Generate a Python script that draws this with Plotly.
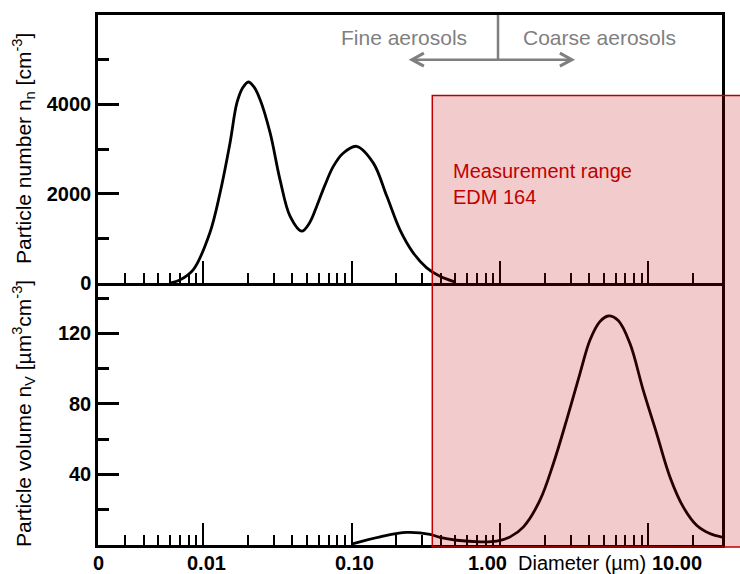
import math
import plotly.graph_objects as go

# ---- data -------------------------------------------------------------
# Particle number size distribution n_n (cm^-3) versus diameter (um)
number_diam_um = [0.006, 0.007, 0.0086, 0.0111, 0.013, 0.0152, 0.0169, 0.0185,
                  0.0202, 0.0219, 0.0242, 0.0283, 0.033, 0.0386, 0.0462, 0.0522,
                  0.0583, 0.066, 0.0754, 0.0874, 0.108, 0.14, 0.173, 0.212,
                  0.261, 0.321, 0.394, 0.5]
number_conc = [0, 70, 300, 1120, 2010, 3140, 4030, 4370,
               4500, 4400, 4110, 3360, 2310, 1490, 1160, 1350,
               1720, 2180, 2610, 2900, 3060, 2690, 1940, 1190,
               670, 340, 150, 20]

# Particle volume size distribution n_V (um^3 cm^-3) versus diameter (um)
volume_diam_um = [0.1, 0.156, 0.235, 0.338, 0.394, 0.511, 0.733, 0.95,
                  1.17, 1.44, 1.86, 2.29, 2.81, 3.46, 4.04, 4.71,
                  5.36, 6.26, 7.5, 9.22, 11.35, 13.96, 17.15, 21.1,
                  25.9, 31.9]
volume_conc = [0.5, 4.6, 7.1, 6.0, 4.3, 2.7, 1.8, 2.2,
               4.6, 10.3, 25.4, 46.2, 70.8, 97.3, 116.2, 126.6,
               129.8, 127.2, 114.3, 87.8, 63.3, 38.6, 21.6, 11.2,
               6.5, 4.3]

# axis extents
x_min_um, x_max_um = 0.00196, 31.3
number_range = [0, 6000]
volume_range = [0, 148.5]

# tick values / labels
x_major_vals = [0.01, 0.1, 1, 10]
x_minor_vals = [m * 10 ** e for e in range(-3, 2) for m in range(2, 10)
                if 0.003 <= m * 10 ** e <= 20]
# diameter axis captions: (text, position in um, bold)
x_captions = [("0", x_min_um, True), ("0.01", 0.0106, True), ("0.10", 0.1055, True),
              ("1.00", 0.818, True), ("Diameter (µm)", 3.57, False), ("10.00", 15.5, True)]
number_ticks = [0, 2000, 4000]
number_minor = [1000, 3000, 5000]
volume_ticks = [40, 80, 120]
volume_minor = [20, 60, 100, 140]

# annotation anchors
fine_coarse_split_um = 0.97
arrow_level = 5000
fine_arrow_tip_um, coarse_arrow_tip_um = 0.255, 3.05
measurement_low_um = 0.35          # lower limit of the EDM 164 range
measurement_top_number = 4200      # top edge of the highlight (top panel units)
measurement_bottom_volume = -1.1   # bottom edge of the highlight (bottom panel units)

# ---- layout geometry ---------------------------------------------------
W, H = 740, 574
M = dict(l=98, r=18, t=15, b=29)
split = 262 / (H - M["t"] - M["b"])   # bottom panel share of the plot height
xr = [math.log10(x_min_um), math.log10(x_max_um)]

FONT = "Arial, Liberation Sans, sans-serif"
GREY = "#7f7f7f"
RED = "#c00000"


def x_to_paper(d):
    return (math.log10(d) - xr[0]) / (xr[1] - xr[0])


def top_to_paper(v):
    return split + (v - number_range[0]) / (number_range[1] - number_range[0]) * (1 - split)


def bottom_to_paper(v):
    return (v - volume_range[0]) / (volume_range[1] - volume_range[0]) * split


fig = go.Figure()
fig.add_trace(go.Scatter(x=number_diam_um, y=number_conc, mode="lines",
                         line=dict(color="black", width=2.8, shape="spline", smoothing=1),
                         xaxis="x", yaxis="y", showlegend=False, hoverinfo="skip"))
fig.add_trace(go.Scatter(x=volume_diam_um, y=volume_conc, mode="lines",
                         line=dict(color="black", width=2.8, shape="spline", smoothing=1),
                         xaxis="x2", yaxis="y2", showlegend=False, hoverinfo="skip"))

xcommon = dict(type="log", range=xr, showgrid=False, zeroline=False, automargin=False,
               showline=True, linecolor="black", linewidth=2.5, showticklabels=False,
               tickmode="array", tickvals=x_major_vals, ticks="inside",
               ticklen=22, tickwidth=2, tickcolor="black",
               minor=dict(tickmode="array", tickvals=x_minor_vals, ticks="inside",
                          ticklen=10, tickwidth=2, tickcolor="black"))
ycommon = dict(showgrid=False, zeroline=False, automargin=False,
               showline=True, linecolor="black", linewidth=2.5, mirror=True,
               tickmode="array", ticks="inside", ticklen=21, tickwidth=2.5,
               tickcolor="black", tickfont=dict(size=20, weight="bold", family=FONT))

fig.update_layout(
    width=W, height=H, margin=M,
    paper_bgcolor="white", plot_bgcolor="white",
    font=dict(family=FONT, color="black"),
    xaxis=dict(**xcommon, anchor="y", mirror=True),
    xaxis2=dict(**xcommon, anchor="y2", matches="x"),
    yaxis=dict(**ycommon, domain=[split, 1], range=number_range, tickvals=number_ticks,
               minor=dict(tickmode="array", tickvals=number_minor, ticks="inside",
                          ticklen=11, tickwidth=2.5, tickcolor="black")),
    yaxis2=dict(**ycommon, domain=[0, split], range=volume_range, tickvals=volume_ticks,
                minor=dict(tickmode="array", tickvals=volume_minor, ticks="inside",
                           ticklen=11, tickwidth=2.5, tickcolor="black")),
)

# fine / coarse divider with a double-headed arrow
fig.add_shape(type="line", xref="x", yref="y",
              x0=fine_coarse_split_um, x1=fine_coarse_split_um,
              y0=arrow_level, y1=number_range[1],
              line=dict(color=GREY, width=2.5))
fig.add_shape(type="line", xref="x", yref="y",
              x0=fine_arrow_tip_um, x1=coarse_arrow_tip_um,
              y0=arrow_level, y1=arrow_level,
              line=dict(color=GREY, width=2.5))
for tip, sign in ((fine_arrow_tip_um, 1), (coarse_arrow_tip_um, -1)):
    fig.add_shape(type="path", xref="x", yref="y",
                  xsizemode="pixel", ysizemode="pixel",
                  xanchor=tip, yanchor=arrow_level,
                  path=f"M {12 * sign},6.5 L 0,0 L {12 * sign},-6.5",
                  line=dict(color=GREY, width=3))
fig.add_annotation(x=math.log10(0.226), y=5500, xref="x", yref="y", text="Fine aerosols",
                   showarrow=False, font=dict(size=21, color=GREY),
                   xanchor="center", yanchor="middle")
fig.add_annotation(x=math.log10(4.71), y=5500, xref="x", yref="y", text="Coarse aerosols",
                   showarrow=False, font=dict(size=21, color=GREY),
                   xanchor="center", yanchor="middle")

# measurement range highlight
fig.add_shape(type="rect", xref="paper", yref="paper", layer="above",
              x0=x_to_paper(measurement_low_um), x1=1.1,
              y0=bottom_to_paper(measurement_bottom_volume),
              y1=top_to_paper(measurement_top_number),
              fillcolor="rgba(192,0,0,0.2)", line=dict(color=RED, width=1.5))
fig.add_annotation(x=math.log10(0.466), y=2210, xref="x", yref="y",
                   text="Measurement range<br>EDM 164", showarrow=False, align="left",
                   xanchor="left", yanchor="middle", font=dict(size=20, color=RED))

# diameter axis captions below the bottom panel
for txt, d, bold in x_captions:
    fig.add_annotation(x=math.log10(d), y=0, xref="x2", yref="paper", yshift=-18,
                       text=txt, showarrow=False, xanchor="center", yanchor="middle",
                       font=dict(size=20, family=FONT, weight="bold" if bold else "normal"))

# y-axis titles
title_x = (24 - M["l"]) / (W - M["l"] - M["r"])
fig.add_annotation(x=title_x, y=(split + 1) / 2, xref="paper", yref="paper",
                   xanchor="center", yanchor="middle",
                   text="Particle number n<sub>n</sub> [cm<sup>-3</sup>]",
                   textangle=-90, showarrow=False, font=dict(size=21))
fig.add_annotation(x=title_x, y=split / 2, xref="paper", yref="paper",
                   xanchor="center", yanchor="middle",
                   text="Particle volume n<sub>V</sub> [µm<sup>3</sup>cm<sup>-3</sup>]",
                   textangle=-90, showarrow=False, font=dict(size=21))

fig.write_html("out.html")
